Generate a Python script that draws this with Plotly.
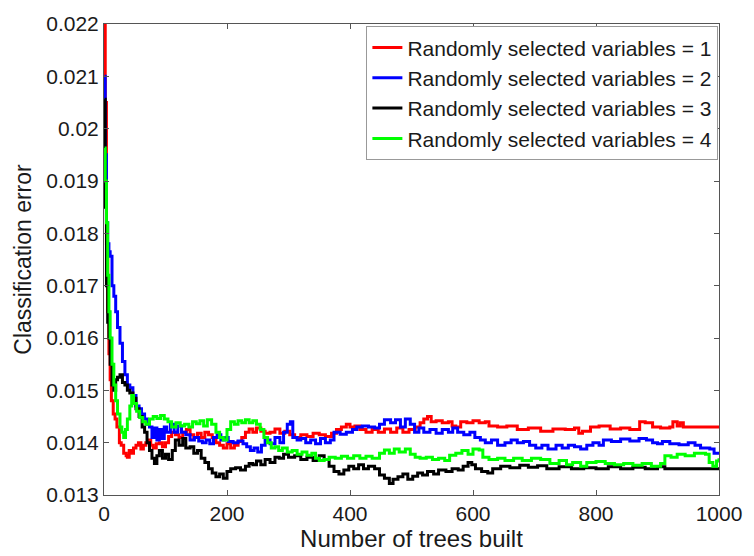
import plotly.graph_objects as go

# ---------------- data ----------------
red_x = [1, 2, 4, 6, 8, 10, 12, 15, 18, 21, 25, 28, 32, 36, 38, 41, 44, 48, 52, 56, 60, 64, 68, 72, 76, 80, 85, 90, 95, 100,
         105, 110, 116, 122, 128, 134, 140, 146, 152, 158, 164, 170, 176, 182, 188, 194, 200, 206, 212, 218, 224, 230, 236, 242,
         248, 255, 262, 270, 278, 286, 294, 302, 310, 320, 330, 340, 350, 360, 370, 378, 386, 394, 400, 408, 416, 426, 436, 446,
         456, 466, 476, 486, 496, 506, 514, 520, 526, 532, 540, 550, 560, 566, 572, 580, 590, 600, 610, 620, 626, 640, 655, 672,
         690, 710, 730, 750, 765, 772, 778, 791, 805, 823, 840, 855, 871, 880, 892, 905, 920, 925, 932, 937, 942, 1000]
red_y = [0.0220, 0.0205, 0.0178, 0.0165, 0.0157, 0.0152, 0.0148, 0.01455, 0.01445, 0.0143, 0.0140, 0.01395, 0.0138, 0.01375,
         0.01372, 0.01385, 0.0138, 0.0139, 0.01395, 0.0140, 0.01388, 0.01395, 0.0140, 0.01405, 0.01395, 0.0139, 0.01398, 0.0140,
         0.01392, 0.0140, 0.01412, 0.0142, 0.01415, 0.0141, 0.0142, 0.01425, 0.01415, 0.0141, 0.01418, 0.0141, 0.0142, 0.01415,
         0.0141, 0.0140, 0.01395, 0.0139, 0.01398, 0.0139, 0.01395, 0.01402, 0.0141, 0.0142, 0.01426, 0.0142, 0.01428, 0.01422,
         0.01418, 0.0142, 0.01426, 0.01418, 0.01422, 0.01415, 0.0141, 0.01415, 0.01412, 0.01418, 0.01415, 0.01412, 0.01418,
         0.01425, 0.0143, 0.01435, 0.0143, 0.01432, 0.01425, 0.0142, 0.01425, 0.0142, 0.01426, 0.0142, 0.01428, 0.0142, 0.01425,
         0.0143, 0.01438, 0.01445, 0.0145, 0.0144, 0.01442, 0.01438, 0.0144, 0.01432, 0.0143, 0.0144, 0.01438, 0.01442, 0.01438,
         0.0144, 0.01432, 0.0143, 0.01432, 0.01425, 0.01428, 0.01422, 0.01426, 0.01425, 0.01428, 0.01418, 0.01422, 0.0143,
         0.01432, 0.01426, 0.01428, 0.01425, 0.0144, 0.01438, 0.0143, 0.01428, 0.0143, 0.0144, 0.01432, 0.01438, 0.0143, 0.0143]

blue_x = [1, 2, 4, 6, 8, 10, 13, 16, 19, 22, 26, 30, 34, 38, 42, 47, 52, 57, 61, 66, 70, 74, 78, 82, 86, 90, 94, 98, 102,
          108, 114, 120, 126, 133, 140, 147, 154, 160, 166, 172, 178, 184, 190, 196, 202, 210, 218, 226, 232, 238, 244, 250,
          256, 262, 270, 278, 286, 292, 298, 303, 307, 314, 320, 328, 336, 344, 352, 360, 368, 374, 384, 394, 404, 411, 420,
          430, 440, 448, 456, 466, 474, 482, 490, 498, 505, 512, 520, 530, 540, 550, 560, 567, 575, 585, 595, 603, 612, 620,
          630, 640, 652, 662, 672, 682, 692, 702, 712, 722, 735, 745, 755, 765, 775, 785, 795, 805, 812, 825, 840, 855, 870,
          882, 892, 900, 908, 920, 935, 950, 961, 970, 985, 992, 1000]
blue_y = [0.0210, 0.0195, 0.0182, 0.0178, 0.01765, 0.01756, 0.0170, 0.0168, 0.0165, 0.0162, 0.0159, 0.01555, 0.0153, 0.0151,
          0.01505, 0.0149, 0.0147, 0.01465, 0.01455, 0.01445, 0.01435, 0.0143, 0.0141, 0.01428, 0.01405, 0.01425, 0.01408,
          0.0143, 0.0142, 0.01435, 0.0142, 0.01432, 0.0142, 0.01415, 0.01405, 0.0141, 0.01403, 0.0140, 0.01405, 0.01398, 0.0141,
          0.01415, 0.01405, 0.0141, 0.01402, 0.0140, 0.01403, 0.01398, 0.01392, 0.01385, 0.0139, 0.01382, 0.01395, 0.01405,
          0.01398, 0.0141, 0.0140, 0.0142, 0.01435, 0.0144, 0.0141, 0.01405, 0.01408, 0.0140, 0.01405, 0.01398, 0.01408, 0.0140,
          0.01405, 0.0142, 0.01416, 0.0142, 0.01425, 0.0143, 0.01432, 0.0143, 0.01428, 0.01435, 0.01444, 0.01438, 0.01444,
          0.0143, 0.01445, 0.01435, 0.0142, 0.01428, 0.0142, 0.01425, 0.01418, 0.01425, 0.0142, 0.01428, 0.0142, 0.01415,
          0.0142, 0.0141, 0.01405, 0.0140, 0.01405, 0.01395, 0.0140, 0.01405, 0.0140, 0.01402, 0.01395, 0.0139, 0.01395,
          0.01388, 0.01395, 0.0139, 0.01395, 0.01392, 0.01388, 0.01395, 0.0140, 0.01395, 0.01405, 0.01402, 0.01407, 0.01403,
          0.01408, 0.01405, 0.0140, 0.01398, 0.01402, 0.01398, 0.01396, 0.0140, 0.01395, 0.0139, 0.01388, 0.0138, 0.01378]

black_x = [1, 2, 4, 6, 8, 10, 13, 16, 19, 22, 26, 30, 34, 38, 42, 47, 52, 57, 62, 66, 70, 74, 78, 82, 86, 90, 95, 100, 105,
           111, 116, 122, 128, 133, 140, 146, 152, 158, 164, 170, 176, 182, 188, 194, 200, 206, 214, 222, 230, 236, 242, 248,
           255, 262, 270, 278, 285, 292, 300, 310, 320, 330, 340, 350, 358, 366, 374, 382, 390, 398, 406, 414, 422, 430, 440,
           448, 456, 464, 470, 478, 486, 494, 502, 510, 518, 526, 536, 544, 556, 566, 576, 584, 592, 598, 604, 614, 624, 632,
           645, 660, 676, 690, 705, 720, 740, 760, 780, 800, 820, 840, 860, 880, 900, 912, 1000]
black_y = [0.02056, 0.0185, 0.0170, 0.0163, 0.0160, 0.0155, 0.0151, 0.0150, 0.0152, 0.01525, 0.0153, 0.01515, 0.0151, 0.0150,
           0.01495, 0.01485, 0.01465, 0.0145, 0.0143, 0.0142, 0.0140, 0.01385, 0.0137, 0.0136, 0.01375, 0.01385, 0.0137,
           0.01378, 0.01368, 0.01385, 0.01405, 0.01395, 0.01408, 0.0139, 0.01392, 0.0138, 0.01385, 0.0137, 0.01362, 0.0135,
           0.01342, 0.01335, 0.0134, 0.01332, 0.01345, 0.0135, 0.01352, 0.01348, 0.01355, 0.0136, 0.01358, 0.01365, 0.01358,
           0.01368, 0.01362, 0.01372, 0.0137, 0.01378, 0.01372, 0.01375, 0.01368, 0.01372, 0.01366, 0.01375, 0.01368, 0.01355,
           0.01345, 0.0134, 0.01348, 0.01355, 0.0135, 0.01358, 0.0135, 0.01355, 0.0135, 0.01338, 0.01332, 0.01322, 0.0133,
           0.01335, 0.0134, 0.0133, 0.01336, 0.01342, 0.01338, 0.01345, 0.0134, 0.01348, 0.01345, 0.0135, 0.01348, 0.01355,
           0.01362, 0.01358, 0.0135, 0.01345, 0.01342, 0.0135, 0.01355, 0.01352, 0.01357, 0.01353, 0.01356, 0.0135, 0.01354,
           0.0135, 0.01352, 0.0135, 0.01354, 0.0135, 0.01353, 0.0135, 0.01354, 0.0135, 0.0135]

green_x = [1, 2, 4, 6, 8, 10, 13, 16, 19, 22, 26, 29, 32, 35, 38, 42, 45, 48, 53, 58, 63, 68, 74, 80, 86, 92, 98, 104, 110,
           117, 124, 131, 138, 144, 150, 156, 162, 168, 175, 182, 188, 194, 200, 206, 212, 218, 224, 230, 236, 242, 248, 254,
           260, 266, 272, 278, 284, 290, 298, 306, 314, 322, 330, 338, 344, 350, 358, 366, 376, 386, 396, 406, 416, 426, 436,
           448, 456, 464, 472, 480, 490, 498, 506, 514, 524, 534, 544, 554, 562, 572, 582, 592, 600, 610, 616, 626, 640, 652,
           666, 680, 695, 710, 725, 740, 752, 762, 775, 785, 800, 815, 830, 845, 860, 875, 890, 905, 912, 922, 932, 945, 960,
           978, 984, 990, 996, 1000]
green_y = [0.01963, 0.0190, 0.0182, 0.0172, 0.0165, 0.0160, 0.0155, 0.0151, 0.0148, 0.01455, 0.0143, 0.0142, 0.0141, 0.01425,
           0.01445, 0.0147, 0.0149, 0.01475, 0.0146, 0.01448, 0.0144, 0.01435, 0.01445, 0.0145, 0.01446, 0.01452, 0.01445,
           0.0144, 0.0143, 0.01438, 0.01432, 0.01435, 0.0143, 0.0144, 0.01436, 0.01442, 0.01432, 0.01444, 0.01435, 0.0142,
           0.0141, 0.01405, 0.01425, 0.0144, 0.01435, 0.01442, 0.01438, 0.01444, 0.01438, 0.01442, 0.01435, 0.01425, 0.0141,
           0.0140, 0.0139, 0.01392, 0.01385, 0.0139, 0.01382, 0.01385, 0.01378, 0.01382, 0.01376, 0.0138, 0.0137, 0.01366,
           0.01368, 0.01372, 0.0137, 0.01374, 0.0137, 0.01375, 0.0137, 0.01374, 0.0137, 0.0138, 0.01386, 0.0138, 0.01388,
           0.01382, 0.01388, 0.01378, 0.01372, 0.0137, 0.01372, 0.01368, 0.0137, 0.01366, 0.01376, 0.0138, 0.01385, 0.01378,
           0.01388, 0.01386, 0.01372, 0.01368, 0.0137, 0.01366, 0.0137, 0.01366, 0.0137, 0.01368, 0.0136, 0.01366, 0.01358,
           0.01362, 0.01355, 0.01362, 0.01364, 0.0136, 0.01358, 0.0136, 0.01357, 0.0136, 0.01355, 0.0136, 0.01375, 0.01372,
           0.01378, 0.01375, 0.0138, 0.01378, 0.01362, 0.01355, 0.01365, 0.0137]

series_names = ["Randomly selected variables = 1", "Randomly selected variables = 2",
                "Randomly selected variables = 3", "Randomly selected variables = 4"]
series_colors = ["#ff0000", "#0000ff", "#000000", "#00ff00"]
x_ticks = [0, 200, 400, 600, 800, 1000]
y_ticks = [0.013, 0.014, 0.015, 0.016, 0.017, 0.018, 0.019, 0.020, 0.021, 0.022]
y_tick_text = ["0.013", "0.014", "0.015", "0.016", "0.017", "0.018", "0.019", "0.02", "0.021", "0.022"]

# ---------------- figure ----------------
FONT = "Liberation Sans, Arial, sans-serif"
fig = go.Figure()
for xs, ys, name, col in zip([red_x, blue_x, black_x, green_x], [red_y, blue_y, black_y, green_y],
                             series_names, series_colors):
    fig.add_trace(go.Scatter(x=xs, y=ys, mode="lines", name=name,
                             line=dict(color=col, width=3, shape="hv")))

axis_common = dict(showline=True, linecolor="#555555", linewidth=1, mirror="allticks",
                   ticks="inside", ticklen=5, tickcolor="#555555", showgrid=False, zeroline=False,
                   tickfont=dict(family=FONT, size=21, color="#1a1a1a"))

fig.update_layout(
    width=754, height=556,
    margin=dict(l=104, r=27, t=20, b=54),
    paper_bgcolor="white", plot_bgcolor="white",
    font=dict(family=FONT, color="#1a1a1a"),
    xaxis=dict(range=[0, 1000], tickvals=x_ticks,
               title=dict(text="Number of trees built", font=dict(family=FONT, size=24), standoff=2),
               **axis_common),
    yaxis=dict(range=[0.013, 0.022], tickvals=y_ticks, ticktext=y_tick_text,
               title=dict(text="Classification error", font=dict(family=FONT, size=23), standoff=8),
               **axis_common),
    legend=dict(x=0.999, y=0.995, xanchor="right", yanchor="top",
                bgcolor="white", bordercolor="#999999", borderwidth=1,
                font=dict(family=FONT, size=21, color="#1a1a1a"),
                tracegroupgap=0, itemwidth=30),
    showlegend=True,
)

fig.write_html("out.html")
